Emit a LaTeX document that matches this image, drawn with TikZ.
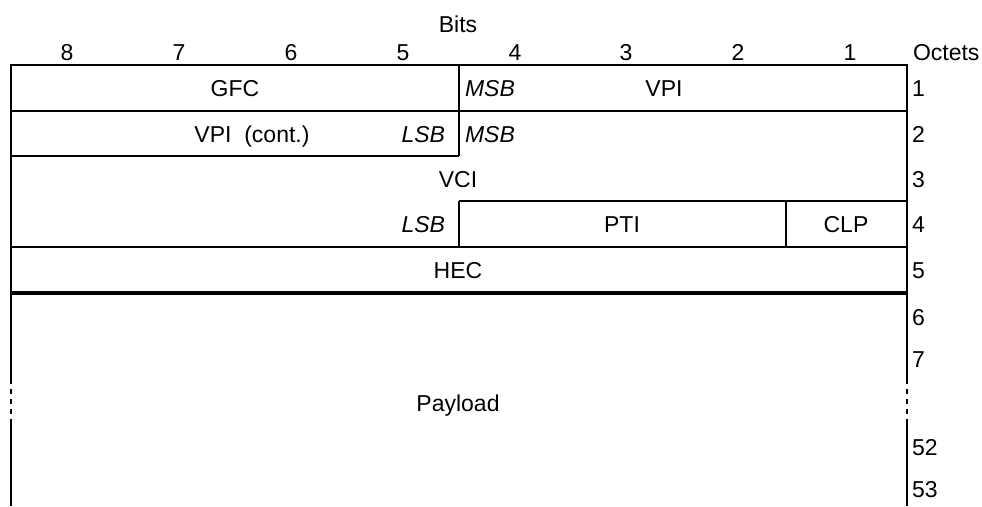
\documentclass[tikz,border=0pt]{standalone}
\usepackage{fontspec}
\setmainfont{Liberation Sans}
\begin{document}
\begin{tikzpicture}[x=1pt,y=-1pt,line width=2pt,
  lbl/.style={anchor=base,inner sep=0pt,font=\fontsize{23}{27}\selectfont},
  lblw/.style={lbl,anchor=base west},
  lble/.style={lbl,anchor=base east},
  bitsep/.style={dash pattern=on 5pt off 5pt,dash phase=5pt}]
\useasboundingbox (0,0) rectangle (982,506);
% outer frame
\draw (11,384) -- (11,65) -- (906.5,65) -- (906.5,384);
\draw[bitsep] (11,384) -- (11,424);
\draw[bitsep] (906.5,384) -- (906.5,424);
\draw (11,424) -- (11,506);
\draw (906.5,424) -- (906.5,506);
% inner lines
\draw (11,111) -- (906.5,111);
\draw (11,156) -- (459,156);
\draw (459,65) -- (459,156);
\draw (459,201) -- (906.5,201);
\draw (459,201) -- (459,246.5);
\draw (786,201) -- (786,246.5);
\draw (11,246.5) -- (906.5,246.5);
\draw[line width=4pt] (11,293) -- (906.5,293);
% header
\node[lbl] (bits) at (458,32) {Bits};
\node[lbl] (b8) at (67,60) {8};
\node[lbl] (b7) at (179,60) {7};
\node[lbl] (b6) at (291,60) {6};
\node[lbl] (b5) at (403,60) {5};
\node[lbl] (b4) at (515,60) {4};
\node[lbl] (b3) at (626,60) {3};
\node[lbl] (b2) at (738,60) {2};
\node[lbl] (b1) at (850,60) {1};
\node[lblw] (oct) at (912,60) {Octets};
% octet numbers
\node[lblw] (o1) at (911,96.5) {1};
\node[lblw] (o2) at (911,142) {2};
\node[lblw] (o3) at (911,187) {3};
\node[lblw] (o4) at (911,232) {4};
\node[lblw] (o5) at (911,278) {5};
\node[lblw] (o6) at (911,325) {6};
\node[lblw] (o7) at (911,367) {7};
\node[lblw] (o52) at (911,455) {52};
\node[lblw] (o53) at (911,497) {53};
% fields
\node[lbl] (gfc) at (235,96.5) {GFC};
\node[lblw] (msb1) at (464,96.5) {\itshape MSB};
\node[lbl] (vpi) at (664,96.5) {VPI};
\node[lbl] (vpic) at (252,142) {VPI\ \ (cont.)};
\node[lble] (lsb2) at (446,142) {\itshape LSB};
\node[lblw] (msb2) at (464,142) {\itshape MSB};
\node[lbl] (vci) at (458,187) {VCI};
\node[lble] (lsb4) at (446,232) {\itshape LSB};
\node[lbl] (pti) at (622,232) {PTI};
\node[lbl] (clp) at (846,232) {CLP};
\node[lbl] (hec) at (458,278) {HEC};
\node[lbl] (pay) at (458,411) {Payload};
\end{tikzpicture}
\end{document}
